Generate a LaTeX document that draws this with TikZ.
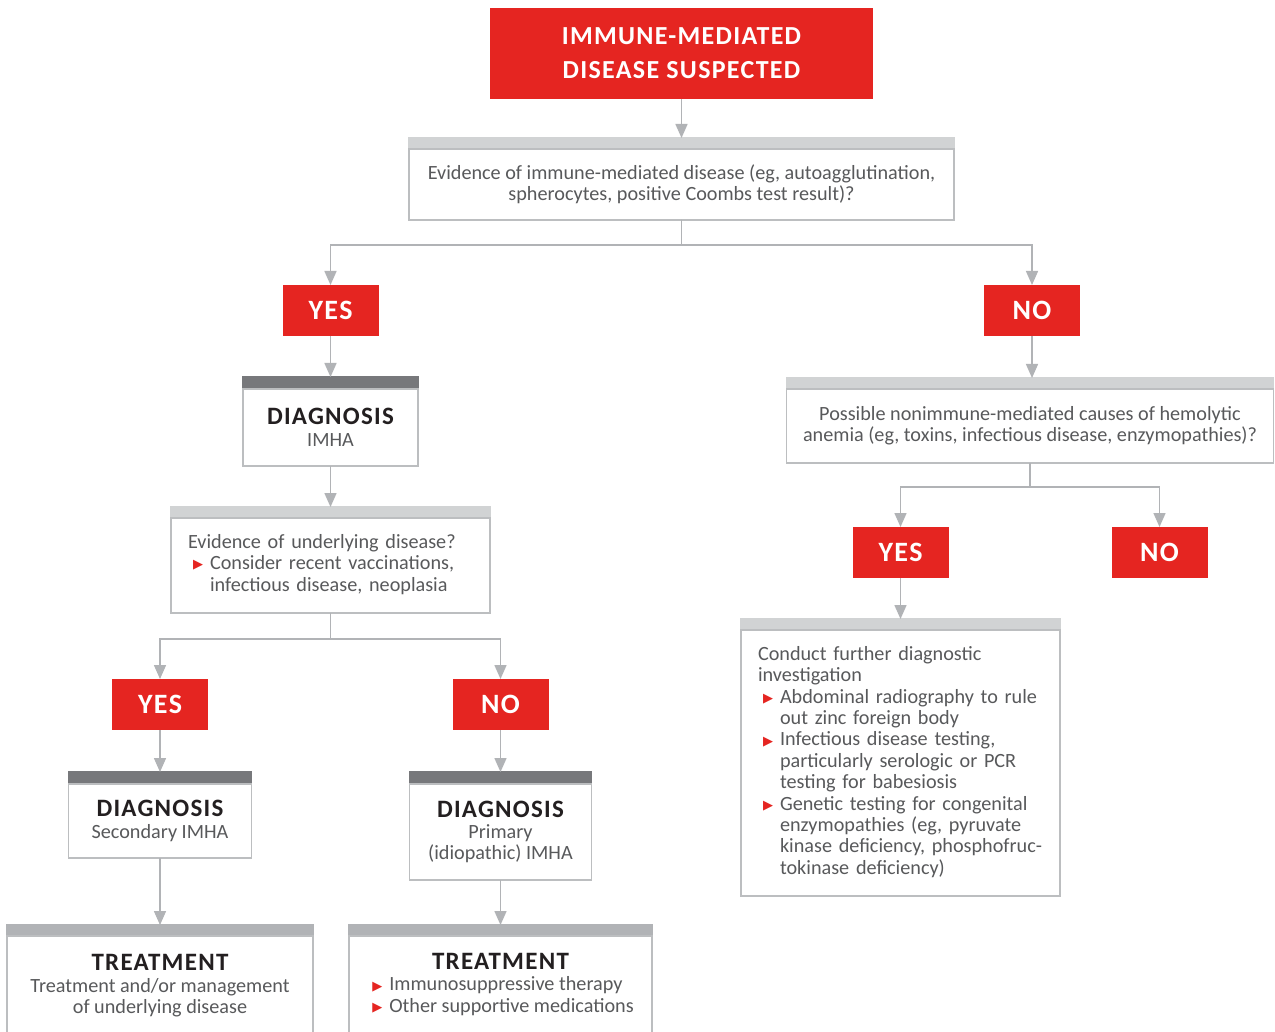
\documentclass[tikz,border=0pt]{standalone}
\usepackage{fontspec}
\setmainfont{Carlito}
\newfontfamily\headfont{Carlito}[LetterSpace=5]
\newfontfamily\symfont{DejaVu Sans}
\usetikzlibrary{arrows.meta,positioning}

\definecolor{imred}{HTML}{E52521}
\definecolor{boxgray}{HTML}{BCBEC0}
\definecolor{barlight}{HTML}{D1D3D4}
\definecolor{bardark}{HTML}{77787B}
\definecolor{barmid}{HTML}{B1B3B6}
\definecolor{arrowgray}{HTML}{B1B3B6}
\definecolor{bodygray}{HTML}{58595B}
\definecolor{titleblack}{HTML}{231F20}

\newcommand{\bodyfont}{\fontsize{10.1}{10.7}\selectfont}
\newcommand{\titlefont}{\color{titleblack}\headfont\bfseries\fontsize{12.5}{14}\selectfont}
\newcommand{\tri}{\makebox[11pt][l]{\hspace{2.5pt}\raisebox{0.4pt}{\textcolor{imred}{\symfont\fontsize{6.5}{6.5}\selectfont ▶}}}}
\newcommand{\ind}{\hspace*{11pt}}

\begin{document}
\begin{tikzpicture}[x=0.5pt, y=-0.5pt,
    redbox/.style={fill=imred, text=white, inner sep=0pt, outer sep=0pt, anchor=north, align=center, text depth=0pt,
      font=\headfont\bfseries\fontsize{14}{14}\selectfont, minimum width=48pt, minimum height=25.5pt},
    bar/.style={fill=#1, draw=#1, line width=0.75pt, inner sep=0pt, outer sep=0pt, minimum height=5.5pt, anchor=north},
    bar/.default=barlight,
    panel/.style={draw=boxgray, fill=white, line width=0.75pt, inner sep=0pt, outer sep=0pt,
      text=bodygray, align=center, font=\bodyfont},
    arr/.style={arrowgray, line width=0.75pt, -{Triangle[width=6pt,length=7pt]}}]
  \fill[white] (0,0) rectangle (1275,1032);
  \clip (0,0) rectangle (1275,1032);

  % start
  \node[redbox, minimum width=191.5pt, minimum height=45.5pt, font=\headfont\bfseries\fontsize{13}{17}\selectfont] (top) at (681.5,8) {IMMUNE-MEDIATED\\DISEASE SUSPECTED};

  \node[bar, minimum width=272.5pt] (q1bar) at (681.5,138) {};
  \node[panel, minimum width=272.5pt, minimum height=35.5pt, below=0pt of q1bar] (q1) {Evidence of immune-mediated disease (eg, autoagglutination,\\spherocytes, positive Coombs test result)?};

  % left branch
  \node[redbox] (yes1) at (330.5,285) {YES};
  \node[bar=bardark, minimum width=87.5pt, minimum height=6pt] (diag1bar) at (330.5,377) {};
  \node[panel, minimum width=87.5pt, minimum height=38.5pt, below=0pt of diag1bar] (diag1) {{\titlefont DIAGNOSIS}\\IMHA};

  \node[bar, minimum width=159.5pt] (q2bar) at (330.5,507) {};
  \node[panel, minimum width=159.5pt, minimum height=47.5pt, text width=142.5pt, align=left, below=0pt of q2bar] (q2) {\begin{tabular}{@{}l@{}}Evidence of underlying disease?\\\tri Consider recent vaccinations,\\\ind infectious disease, neoplasia\end{tabular}};

  \node[redbox] (yes2) at (160,679) {YES};
  \node[redbox] (no2) at (500.5,679) {NO};

  \node[bar=bardark, minimum width=91.5pt, minimum height=6pt] (diag2bar) at (160,772) {};
  \node[panel, minimum width=91.5pt, minimum height=37pt, below=0pt of diag2bar] (diag2) {{\titlefont DIAGNOSIS}\\Secondary IMHA};
  \node[bar=bardark, minimum width=91pt, minimum height=6pt] (diag3bar) at (500.5,772) {};
  \node[panel, minimum width=91pt, minimum height=48pt, below=0pt of diag3bar] (diag3) {{\titlefont DIAGNOSIS}\\Primary\\(idiopathic) IMHA};

  \node[bar=barmid, minimum width=153pt] (treat1bar) at (160,925) {};
  \node[panel, minimum width=153pt, minimum height=50pt, below=0pt of treat1bar] (treat1) {{\titlefont TREATMENT}\\Treatment and/or management\\of underlying disease};
  \node[bar=barmid, minimum width=151.5pt] (treat2bar) at (500.5,925) {};
  \node[panel, minimum width=151.5pt, minimum height=50pt, below=0pt of treat2bar] (treat2) {{\titlefont TREATMENT}\\\begin{tabular}[t]{@{}l@{}}\tri Immunosuppressive therapy\\\tri Other supportive medications\end{tabular}};

  % right branch
  \node[redbox] (no1) at (1032,285) {NO};
  \node[bar, minimum width=243.5pt] (q3bar) at (1030,378) {};
  \node[panel, minimum width=243.5pt, minimum height=37pt, below=0pt of q3bar] (q3) {Possible nonimmune-mediated causes of hemolytic\\anemia (eg, toxins, infectious disease, enzymopathies)?};

  \node[redbox] (yes3) at (900.5,527) {YES};
  \node[redbox] (no3) at (1159.5,527) {NO};

  \node[bar, minimum width=159.5pt] (q4bar) at (900.5,619) {};
  \node[panel, minimum width=159.5pt, minimum height=133pt, text width=142.5pt, align=left, below=0pt of q4bar] (q4) {\begin{tabular}{@{}l@{}}Conduct further diagnostic\\investigation\\
    \tri Abdominal radiography to rule\\\ind out zinc foreign body\\
    \tri Infectious disease testing,\\\ind particularly serologic or PCR\\\ind testing for babesiosis\\
    \tri Genetic testing for congenital\\\ind enzymopathies (eg, pyruvate\\\ind kinase deficiency, phosphofruc-\\\ind tokinase deficiency)\end{tabular}};

  % connectors
  \draw[arr] (top) -- (q1bar);
  \draw[arr] (q1.south) -- ++(0,25) -| (yes1.north);
  \draw[arr] (q1.south) -- ++(0,25) -| (no1.north);
  \draw[arr] (yes1) -- (diag1bar);
  \draw[arr] (diag1) -- (q2bar);
  \draw[arr] (q2.south) -- ++(0,26) -| (yes2.north);
  \draw[arr] (q2.south) -- ++(0,26) -| (no2.north);
  \draw[arr] (yes2) -- (diag2bar);
  \draw[arr] (no2) -- (diag3bar);
  \draw[arr] (diag2) -- (treat1bar);
  \draw[arr] (diag3) -- (treat2bar);
  \draw[arr] (no1.south) -- (no1.south |- q3bar.north);
  \draw[arr] (q3.south) -- ++(0,24) -| (yes3.north);
  \draw[arr] (q3.south) -- ++(0,24) -| (no3.north);
  \draw[arr] (yes3) -- (q4bar);
\end{tikzpicture}
\end{document}
